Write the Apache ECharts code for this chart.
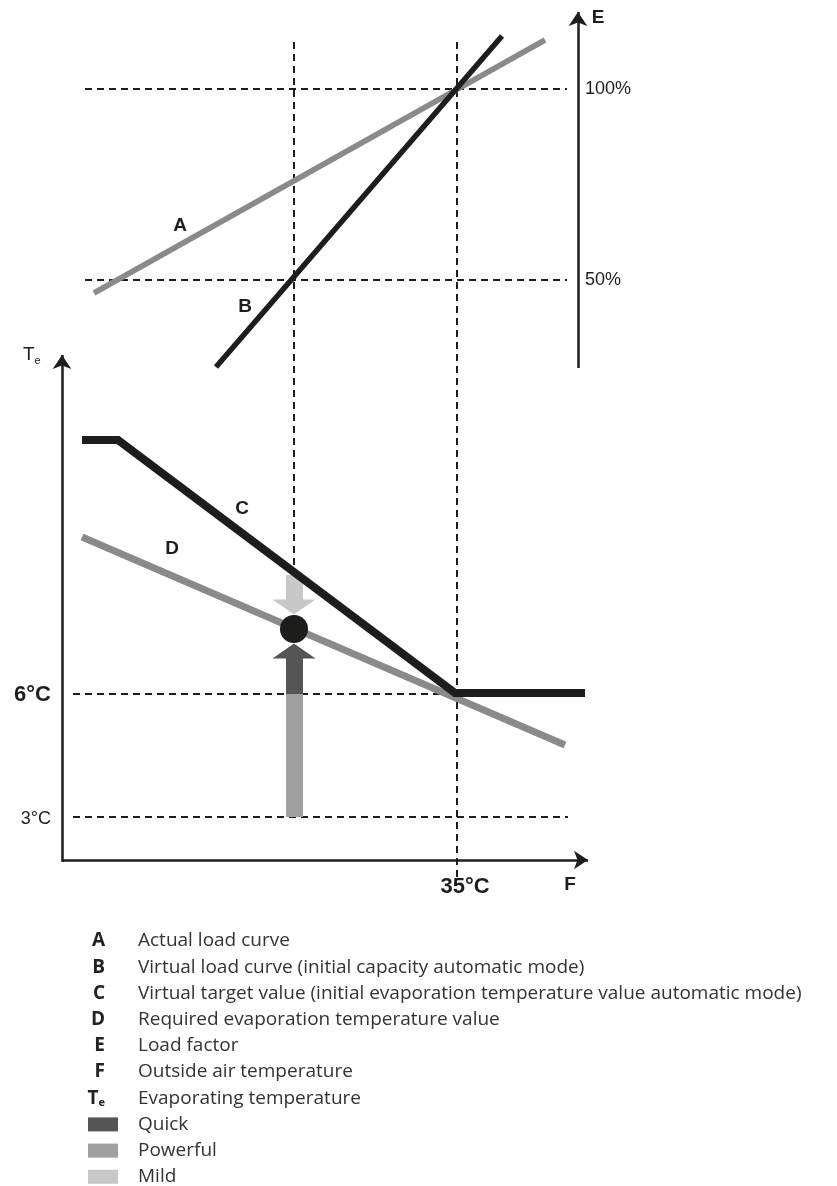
<!DOCTYPE html>
<html>
<head>
<meta charset="utf-8">
<script src="https://cdn.jsdelivr.net/npm/echarts@6/dist/echarts.min.js"></script>
<style>
  html, body { margin: 0; padding: 0; background: #fff; }
  #main { width: 837px; height: 1186px; }
</style>
</head>
<body>
<div id="main"></div>
<script>
  // diagram is drawn in a hidden 837 x 1186 value space (y grows downwards)
  const loadA = [[94, 293], [545, 40]];
  const loadB = [[216, 367], [502, 36]];
  const targetC = [[82, 440], [118, 440], [455, 693], [585, 693]];
  const requiredD = [[82, 537], [565, 745]];

  // dashed guide lines
  const guides = [
    [[85, 89], [567, 89]],     // 100%
    [[85, 280], [567, 280]],   // 50%
    [[294, 42], [294, 572]],   // low outside temp
    [[457, 42], [457, 880]],   // 35°C
    [[73, 694], [456, 694]],   // 6°C
    [[73, 817], [568, 817]]    // 3°C
  ];

  // axes with arrow heads
  const axes = [
    [[578, 368], [578, 12]],   // E
    [[62, 862], [62, 355]],    // Te
    [[62, 860], [588, 860]]    // F
  ];

  // block arrows: Mild (down), Quick + Powerful (up)
  const mildShaft = [[294, 575], [294, 601]];
  const quickShaft = [[294, 658], [294, 694]];
  const powerfulShaft = [[294, 694], [294, 817]];
  const arrowHeads = [
    { value: [294, 607], color: '#c8c8c8', rot: 180 },
    { value: [294, 651], color: '#555555', rot: 0 }
  ];
  const operatingPoint = [[294, 629]];

  // labels placed in the diagram
  const letterLabels = [
    { value: [180, 226], text: 'A' },
    { value: [245, 307], text: 'B' },
    { value: [242, 509], text: 'C' },
    { value: [172, 549], text: 'D' },
    { value: [598, 18], text: 'E' },
    { value: [570, 885], text: 'F' }
  ];
  const tickLabels = [
    { value: [585, 89], text: '100%', bold: false, size: 18, align: 'left' },
    { value: [585, 280], text: '50%', bold: false, size: 18, align: 'left' },
    { value: [51, 695], text: '6°C', bold: true, size: 22, align: 'right' },
    { value: [51, 819], text: '3°C', bold: false, size: 18, align: 'right' },
    { value: [465, 887], text: '35°C', bold: true, size: 22, align: 'center' }
  ];

  const legendKeys = ['A', 'B', 'C', 'D', 'E', 'F', 'T'];
  const legendTexts = [
    'Actual load curve',
    'Virtual load curve (initial capacity automatic mode)',
    'Virtual target value (initial evaporation temperature value automatic mode)',
    'Required evaporation temperature value',
    'Load factor',
    'Outside air temperature',
    'Evaporating temperature',
    'Quick',
    'Powerful',
    'Mild'
  ];
  const legendSwatches = ['#555555', '#a0a0a0', '#c8c8c8'];

  const ink = '#1d1d1b';
  const grey = '#8a8a8a';

  const myChart = echarts.init(document.getElementById('main'));

  function toLines(arr) {
    return arr.map(function (c) { return { coords: c }; });
  }

  // legend below the diagram
  const graphics = [];
  const rowTop = 941, rowStep = 26.2;
  legendTexts.forEach(function (t, i) {
    const y = rowTop + i * rowStep;
    if (i < legendKeys.length) {
      graphics.push({
        type: 'text', x: 105, y: y,
        style: {
          text: legendKeys[i] === 'T' ? '{t|T}{s|e}' : legendKeys[i],
          rich: { t: { fontSize: 19, fontWeight: 'bold', fontFamily: 'Open Sans', fill: '#222' },
                  s: { fontSize: 11, fontWeight: 'bold', fontFamily: 'Open Sans', fill: '#222', padding: [9, 0, 0, 0] } },
          fontSize: 19, fontWeight: 'bold', fontFamily: 'Open Sans', fill: '#222',
          align: 'right', verticalAlign: 'middle'
        }
      });
    } else {
      graphics.push({
        type: 'rect',
        shape: { x: 88, y: y - 7, width: 30, height: 14 },
        style: { fill: legendSwatches[i - legendKeys.length] }
      });
    }
    graphics.push({
      type: 'text', x: 138, y: y,
      style: { text: t, fontSize: 19, fontFamily: 'Open Sans', fill: '#333', verticalAlign: 'middle' }
    });
  });
  // Te axis title
  graphics.push({
    type: 'text', x: 23, y: 355,
    style: {
      text: '{t|T}{s|e}',
      rich: { t: { fontSize: 19, fontFamily: 'Liberation Sans', fill: '#222' },
              s: { fontSize: 11, fontFamily: 'Liberation Sans', fill: '#222', padding: [12, 0, 0, 0] } },
      verticalAlign: 'middle'
    }
  });

  const option = {
    animation: false,
    backgroundColor: '#fff',
    grid: { left: 0, right: 0, top: 0, bottom: 0 },
    xAxis: { type: 'value', min: 0, max: 837, show: false },
    yAxis: { type: 'value', min: 0, max: 1186, inverse: true, show: false },
    graphic: graphics,
    series: [
      {
        type: 'lines', coordinateSystem: 'cartesian2d', z: 1,
        lineStyle: { color: ink, width: 2, type: [7, 5], opacity: 1 },
        data: toLines(guides)
      },
      {
        type: 'lines', coordinateSystem: 'cartesian2d', z: 3,
        symbol: ['none', 'arrow'], symbolSize: [8, 14],
        lineStyle: { color: ink, width: 2.5, opacity: 1 },
        data: toLines(axes)
      },
      {
        name: 'A', type: 'line', data: loadA, showSymbol: false, z: 4,
        lineStyle: { color: grey, width: 5.5, cap: 'butt' }
      },
      {
        name: 'B', type: 'line', data: loadB, showSymbol: false, z: 5,
        lineStyle: { color: ink, width: 5.5, cap: 'butt' }
      },
      {
        name: 'D', type: 'line', data: requiredD, showSymbol: false, z: 4,
        lineStyle: { color: grey, width: 7, cap: 'butt' }
      },
      {
        name: 'C', type: 'line', data: targetC, showSymbol: false, z: 5,
        lineStyle: { color: ink, width: 8, cap: 'butt', join: 'miter' }
      },
      {
        type: 'lines', coordinateSystem: 'cartesian2d', z: 2,
        lineStyle: { width: 17, opacity: 1, cap: 'butt' },
        data: [
          { coords: mildShaft, lineStyle: { color: '#c8c8c8' } },
          { coords: quickShaft, lineStyle: { color: '#555555' } },
          { coords: powerfulShaft, lineStyle: { color: '#a0a0a0' } }
        ]
      },
      {
        type: 'scatter', z: 6, symbol: 'triangle', symbolSize: [43, 15],
        data: arrowHeads.map(function (h) {
          return { value: h.value, symbolRotate: h.rot, itemStyle: { color: h.color, opacity: 1 } };
        })
      },
      {
        type: 'scatter', z: 7, symbolSize: 28,
        itemStyle: { color: ink, opacity: 1 },
        data: operatingPoint
      },
      {
        type: 'scatter', z: 8, symbolSize: 0,
        itemStyle: { opacity: 1 },
        label: {
          show: true, position: 'inside', formatter: function (p) { return p.data.text; },
          fontFamily: 'Liberation Sans', fontWeight: 'bold', fontSize: 19, color: ink
        },
        data: letterLabels
      },
      {
        type: 'scatter', z: 8, symbolSize: 0,
        itemStyle: { opacity: 1 },
        data: tickLabels.map(function (l) {
          return {
            value: l.value, text: l.text,
            label: {
              show: true, position: 'inside', formatter: l.text, align: l.align,
              fontFamily: 'Liberation Sans', fontWeight: l.bold ? 'bold' : 'normal',
              fontSize: l.size, color: ink
            }
          };
        })
      }
    ]
  };

  myChart.setOption(option);
</script>
</body>
</html>
